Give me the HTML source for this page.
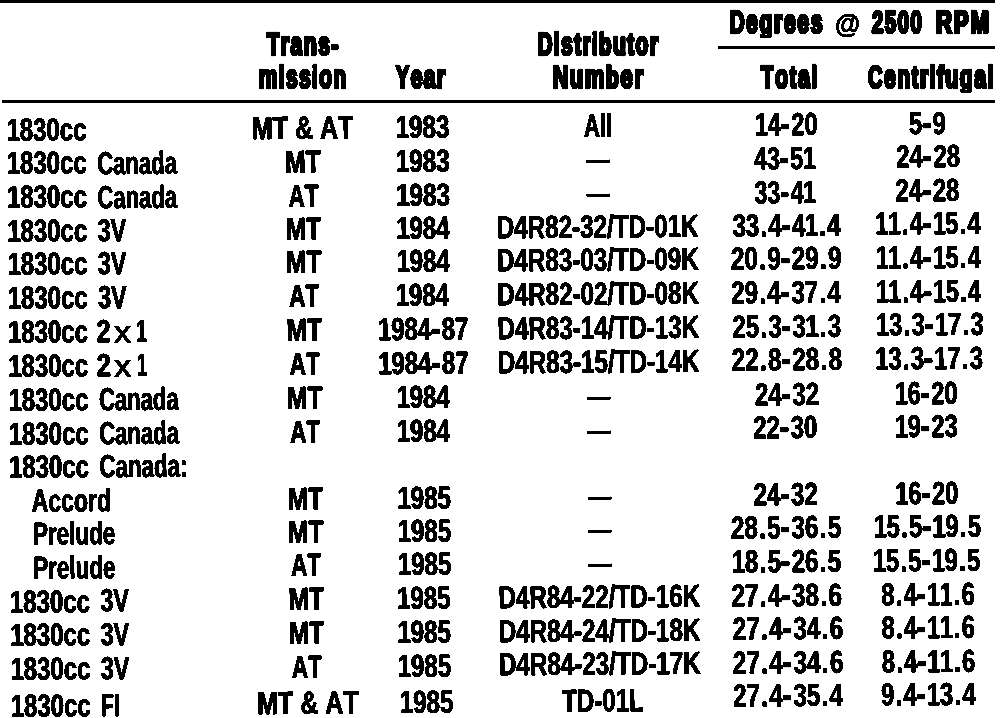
<!DOCTYPE html>
<html><head><meta charset="utf-8"><title>Distributor advance table</title>
<style>
html,body{margin:0;padding:0;background:#fff;}
body{width:1008px;height:718px;position:relative;overflow:hidden;filter:grayscale(1) contrast(40);font-family:"Liberation Sans",sans-serif;color:#000;}
#txt{position:absolute;left:0;top:0;width:1008px;height:718px;transform-origin:0 0;transform:rotate(-0.42deg);}
.t{position:absolute;white-space:nowrap;font-kerning:none;font-weight:bold;line-height:normal;transform-origin:0 0;font-family:"Liberation Sans",sans-serif;color:#000;font-size:32px;}
.t i{font-style:normal;}
.t b{font-weight:bold;}
.t i.p{margin:0 0.055em;}
.t i.h{margin:0 0.020em;font-weight:normal;}
.t i.o{margin:0 -0.012em;}
.b{-webkit-text-stroke:0.2px #000;text-shadow:0.55px 0 0 #000,-0.55px 0 0 #000;}
.x{font-weight:normal;-webkit-text-stroke:1.2px #000;}
.h{font-size:31.8px;-webkit-text-stroke:3px #000;text-shadow:1.3px 0 0 #000,-1.3px 0 0 #000;letter-spacing:2.3px;}
.at{-webkit-text-stroke:1px #000;}
.d{position:absolute;background:#000;height:3px;width:24.2px;}
.r{position:absolute;background:#000;}
</style></head><body>
<div class="r" style="left:0px;top:0px;width:995px;height:3px"></div>
<div class="r" style="left:718px;top:46px;width:277px;height:3px"></div>
<div class="r" style="left:2px;top:100px;width:993px;height:3px"></div>
<div class="t h" style="left:266.94px;top:24.55px;transform:scale(0.6653,1.0200);font-size:31.8px;"><b style="font-size:30px">T</b>rans<b style="font-size:30px">-</b></div>
<div class="t h" style="left:258.76px;top:58.45px;transform:scale(0.6549,1.0200);font-size:31.8px;">m<b style="font-size:30px">i</b>ss<b style="font-size:30px">i</b>on</div>
<div class="t h" style="left:396.31px;top:58.45px;transform:scale(0.6585,1.0200);font-size:31.8px;"><b style="font-size:30px">Y</b>ear</div>
<div class="t h" style="left:537.52px;top:24.65px;transform:scale(0.6638,1.0200);font-size:31.8px;"><b style="font-size:30px">Di</b>s<b style="font-size:30px">t</b>r<b style="font-size:30px">ib</b>u<b style="font-size:30px">t</b>or</div>
<div class="t h" style="left:552.65px;top:58.05px;transform:scale(0.6964,1.0200);font-size:31.8px;"><b style="font-size:30px">N</b>um<b style="font-size:30px">b</b>er</div>
<div class="t h" style="left:729.73px;top:3.35px;transform:scale(0.6707,1.0200);clip-path:inset(-5px -9px 2.6px -9px);font-size:31.8px;"><b style="font-size:30px">D</b>egrees</div>
<div class="t at" style="left:834.66px;top:9.25px;transform:scaleX(0.9640);font-size:26.8px;">@</div>
<div class="t h" style="left:872.38px;top:3.35px;transform:scale(0.6769,1.0200);font-size:31.8px;"><b style="font-size:30px">2500</b></div>
<div class="t h" style="left:935.59px;top:3.35px;transform:scale(0.7425,1.0200);font-size:31.8px;"><b style="font-size:30px">RPM</b></div>
<div class="t h" style="left:760.87px;top:58.25px;transform:scale(0.6745,1.0200);font-size:31.8px;"><b style="font-size:30px">T</b>o<b style="font-size:30px">t</b>a<b style="font-size:30px">l</b></div>
<div class="t h" style="left:867.75px;top:58.25px;transform:scale(0.6676,1.0200);clip-path:inset(-5px -9px 2.6px -9px);font-size:31.8px;"><b style="font-size:30px">C</b>en<b style="font-size:30px">t</b>r<b style="font-size:30px">if</b>uga<b style="font-size:30px">l</b></div>
<div id="txt">
<div class="t b" style="left:5.73px;top:111.79px;transform:scaleX(0.7502);"><i class="o">1</i>830cc</div>
<div class="t b" style="left:251.18px;top:111.90px;transform:scaleX(0.7817);">MT &amp; AT</div>
<div class="t b" style="left:394.93px;top:111.97px;transform:scaleX(0.7600);"><i class="o">1</i>983</div>
<div class="t b" style="left:583.18px;top:111.96px;transform:scaleX(0.6876);">All</div>
<div class="t b" style="left:753.91px;top:112.26px;transform:scaleX(0.7416);"><i class="o">1</i>4<i class="h">-</i>20</div>
<div class="t b" style="left:908.43px;top:111.83px;transform:scaleX(0.7410);">5<i class="h">-</i>9</div>
<div class="t b" style="left:5.75px;top:145.49px;transform:scaleX(0.7502);"><i class="o">1</i>830cc</div>
<div class="t b" style="left:95.53px;top:145.53px;transform:scaleX(0.6893);">Canada</div>
<div class="t b" style="left:284.11px;top:145.59px;transform:scaleX(0.7687);">MT</div>
<div class="t b" style="left:394.83px;top:145.65px;transform:scaleX(0.7600);"><i class="o">1</i>983</div>
<div class="t b" style="left:752.91px;top:145.86px;transform:scaleX(0.7245);">43<i class="h">-</i>5<i class="o">1</i></div>
<div class="t b" style="left:894.58px;top:145.49px;transform:scaleX(0.7490);">24<i class="h">-</i>28</div>
<div class="t b" style="left:5.76px;top:179.49px;transform:scaleX(0.7502);"><i class="o">1</i>830cc</div>
<div class="t b" style="left:95.54px;top:179.53px;transform:scaleX(0.6893);">Canada</div>
<div class="t b" style="left:287.36px;top:179.57px;transform:scaleX(0.7031);">AT</div>
<div class="t b" style="left:394.72px;top:179.62px;transform:scaleX(0.7600);"><i class="o">1</i>983</div>
<div class="t b" style="left:752.78px;top:179.76px;transform:scaleX(0.7267);">33<i class="h">-</i>4<i class="o">1</i></div>
<div class="t b" style="left:894.38px;top:179.44px;transform:scaleX(0.7490);">24<i class="h">-</i>28</div>
<div class="t b" style="left:5.78px;top:212.59px;transform:scaleX(0.7502);"><i class="o">1</i>830cc</div>
<div class="t b" style="left:95.95px;top:212.63px;transform:scaleX(0.7269);">3V</div>
<div class="t b" style="left:284.02px;top:212.66px;transform:scaleX(0.7687);">MT</div>
<div class="t b" style="left:394.63px;top:212.70px;transform:scaleX(0.7492);"><i class="o">1</i>984</div>
<div class="t b" style="left:494.93px;top:212.67px;transform:scaleX(0.7564);">D4R82-32/TD-01K</div>
<div class="t b" style="left:730.89px;top:212.76px;transform:scaleX(0.7430);">33<i class="p">.</i>4<i class="h">-</i>4<i class="o">1</i><i class="p">.</i>4</div>
<div class="t b" style="left:874.34px;top:212.49px;transform:scaleX(0.7303);"><i class="o">1</i><i class="o">1</i><i class="p">.</i>4<i class="h">-</i><i class="o">1</i>5<i class="p">.</i>4</div>
<div class="t b" style="left:5.79px;top:246.30px;transform:scaleX(0.7502);"><i class="o">1</i>830cc</div>
<div class="t b" style="left:95.97px;top:246.32px;transform:scaleX(0.7269);">3V</div>
<div class="t b" style="left:283.98px;top:246.35px;transform:scaleX(0.7687);">MT</div>
<div class="t b" style="left:394.53px;top:246.38px;transform:scaleX(0.7492);"><i class="o">1</i>984</div>
<div class="t b" style="left:494.85px;top:246.34px;transform:scaleX(0.7564);">D4R83-03/TD-09K</div>
<div class="t b" style="left:728.83px;top:246.36px;transform:scaleX(0.7588);">20<i class="p">.</i>9<i class="h">-</i>29<i class="p">.</i>9</div>
<div class="t b" style="left:874.09px;top:246.14px;transform:scaleX(0.7303);"><i class="o">1</i><i class="o">1</i><i class="p">.</i>4<i class="h">-</i><i class="o">1</i>5<i class="p">.</i>4</div>
<div class="t b" style="left:5.81px;top:279.80px;transform:scaleX(0.7502);"><i class="o">1</i>830cc</div>
<div class="t b" style="left:95.98px;top:279.82px;transform:scaleX(0.7269);">3V</div>
<div class="t b" style="left:287.24px;top:279.83px;transform:scaleX(0.7031);">AT</div>
<div class="t b" style="left:394.42px;top:279.86px;transform:scaleX(0.7492);"><i class="o">1</i>984</div>
<div class="t b" style="left:494.78px;top:279.81px;transform:scaleX(0.7564);">D4R82-02/TD-08K</div>
<div class="t b" style="left:728.74px;top:279.76px;transform:scaleX(0.7535);">29<i class="p">.</i>4<i class="h">-</i>37<i class="p">.</i>4</div>
<div class="t b" style="left:873.85px;top:279.60px;transform:scaleX(0.7303);"><i class="o">1</i><i class="o">1</i><i class="p">.</i>4<i class="h">-</i><i class="o">1</i>5<i class="p">.</i>4</div>
<div class="t b" style="left:5.82px;top:313.70px;transform:scaleX(0.7502);"><i class="o">1</i>830cc</div>
<div class="t b" style="left:94.29px;top:313.63px;transform:scaleX(0.8028);">2</div>
<div class="t x" style="left:112.43px;top:316.02px;transform:scaleX(1.0935);font-size:29.5px;">x</div>
<div class="t b" style="left:134.06px;top:313.93px;transform:scaleX(0.5871);">1</div>
<div class="t b" style="left:283.90px;top:313.72px;transform:scaleX(0.7687);">MT</div>
<div class="t b" style="left:376.22px;top:313.74px;transform:scaleX(0.7481);"><i class="o">1</i>984<i class="h">-</i>87</div>
<div class="t b" style="left:494.70px;top:313.68px;transform:scaleX(0.7564);">D4R83-14/TD-13K</div>
<div class="t b" style="left:729.55px;top:313.57px;transform:scaleX(0.7501);">25<i class="p">.</i>3<i class="h">-</i>3<i class="o">1</i><i class="p">.</i>3</div>
<div class="t b" style="left:873.88px;top:313.45px;transform:scaleX(0.7441);"><i class="o">1</i>3<i class="p">.</i>3<i class="h">-</i><i class="o">1</i>7<i class="p">.</i>3</div>
<div class="t b" style="left:5.84px;top:347.60px;transform:scaleX(0.7502);"><i class="o">1</i>830cc</div>
<div class="t b" style="left:94.30px;top:347.53px;transform:scaleX(0.8028);">2</div>
<div class="t x" style="left:112.45px;top:349.92px;transform:scaleX(1.0935);font-size:29.5px;">x</div>
<div class="t b" style="left:134.08px;top:347.82px;transform:scaleX(0.5871);">1</div>
<div class="t b" style="left:287.15px;top:347.60px;transform:scaleX(0.7031);">AT</div>
<div class="t b" style="left:376.11px;top:347.62px;transform:scaleX(0.7481);"><i class="o">1</i>984<i class="h">-</i>87</div>
<div class="t b" style="left:494.63px;top:347.55px;transform:scaleX(0.7564);">D4R83-15/TD-14K</div>
<div class="t b" style="left:728.56px;top:347.37px;transform:scaleX(0.7578);">22<i class="p">.</i>8<i class="h">-</i>28<i class="p">.</i>8</div>
<div class="t b" style="left:872.84px;top:347.30px;transform:scaleX(0.7441);"><i class="o">1</i>3<i class="p">.</i>3<i class="h">-</i><i class="o">1</i>7<i class="p">.</i>3</div>
<div class="t b" style="left:5.86px;top:381.90px;transform:scaleX(0.7502);"><i class="o">1</i>830cc</div>
<div class="t b" style="left:95.64px;top:381.91px;transform:scaleX(0.6893);">Canada</div>
<div class="t b" style="left:283.82px;top:381.89px;transform:scaleX(0.7687);">MT</div>
<div class="t b" style="left:394.10px;top:381.90px;transform:scaleX(0.7492);"><i class="o">1</i>984</div>
<div class="t b" style="left:751.72px;top:381.57px;transform:scaleX(0.7516);">24<i class="h">-</i>32</div>
<div class="t b" style="left:892.44px;top:381.55px;transform:scaleX(0.7416);"><i class="o">1</i>6<i class="h">-</i>20</div>
<div class="t b" style="left:5.87px;top:415.80px;transform:scaleX(0.7502);"><i class="o">1</i>830cc</div>
<div class="t b" style="left:95.65px;top:415.81px;transform:scaleX(0.6893);">Canada</div>
<div class="t b" style="left:287.07px;top:415.77px;transform:scaleX(0.7031);">AT</div>
<div class="t b" style="left:394.00px;top:415.78px;transform:scaleX(0.7492);"><i class="o">1</i>984</div>
<div class="t b" style="left:750.16px;top:415.37px;transform:scaleX(0.7519);">22<i class="h">-</i>30</div>
<div class="t b" style="left:891.79px;top:415.41px;transform:scaleX(0.7402);"><i class="o">1</i>9<i class="h">-</i>23</div>
<div class="t b" style="left:5.89px;top:449.20px;transform:scaleX(0.7502);"><i class="o">1</i>830cc</div>
<div class="t b" style="left:95.67px;top:449.20px;transform:scaleX(0.6966);">Canada:</div>
<div class="t b" style="left:28.23px;top:482.86px;transform:scaleX(0.7198);">Accord</div>
<div class="t b" style="left:283.69px;top:482.64px;transform:scaleX(0.7687);">MT</div>
<div class="t b" style="left:393.78px;top:482.64px;transform:scaleX(0.7572);"><i class="o">1</i>985</div>
<div class="t b" style="left:750.27px;top:482.07px;transform:scaleX(0.7516);">24<i class="h">-</i>32</div>
<div class="t b" style="left:892.00px;top:482.21px;transform:scaleX(0.7416);"><i class="o">1</i>6<i class="h">-</i>20</div>
<div class="t b" style="left:29.21px;top:515.98px;transform:scaleX(0.7017);">Prelude</div>
<div class="t b" style="left:283.65px;top:515.73px;transform:scaleX(0.7687);">MT</div>
<div class="t b" style="left:393.67px;top:515.72px;transform:scaleX(0.7572);"><i class="o">1</i>985</div>
<div class="t b" style="left:726.78px;top:515.07px;transform:scaleX(0.7573);">28<i class="p">.</i>5<i class="h">-</i>36<i class="p">.</i>5</div>
<div class="t b" style="left:869.71px;top:515.26px;transform:scaleX(0.7428);"><i class="o">1</i>5<i class="p">.</i>5<i class="h">-</i><i class="o">1</i>9<i class="p">.</i>5</div>
<div class="t b" style="left:29.22px;top:549.58px;transform:scaleX(0.7017);">Prelude</div>
<div class="t b" style="left:286.90px;top:549.31px;transform:scaleX(0.7031);">AT</div>
<div class="t b" style="left:393.57px;top:549.29px;transform:scaleX(0.7572);"><i class="o">1</i>985</div>
<div class="t b" style="left:727.95px;top:548.57px;transform:scaleX(0.7515);"><i class="o">1</i>8<i class="p">.</i>5<i class="h">-</i>26<i class="p">.</i>5</div>
<div class="t b" style="left:869.46px;top:548.82px;transform:scaleX(0.7428);"><i class="o">1</i>5<i class="p">.</i>5<i class="h">-</i><i class="o">1</i>9<i class="p">.</i>5</div>
<div class="t b" style="left:5.95px;top:583.51px;transform:scaleX(0.7502);"><i class="o">1</i>830cc</div>
<div class="t b" style="left:96.13px;top:583.49px;transform:scaleX(0.7269);">3V</div>
<div class="t b" style="left:283.57px;top:583.40px;transform:scaleX(0.7687);">MT</div>
<div class="t b" style="left:393.46px;top:583.37px;transform:scaleX(0.7572);"><i class="o">1</i>985</div>
<div class="t b" style="left:494.10px;top:583.24px;transform:scaleX(0.7564);">D4R84-22/TD-16K</div>
<div class="t b" style="left:727.48px;top:582.57px;transform:scaleX(0.7587);">27<i class="p">.</i>4<i class="h">-</i>38<i class="p">.</i>6</div>
<div class="t b" style="left:877.43px;top:582.87px;transform:scaleX(0.7381);">8<i class="p">.</i>4<i class="h">-</i><i class="o">1</i><i class="o">1</i><i class="p">.</i>6</div>
<div class="t b" style="left:5.97px;top:616.91px;transform:scaleX(0.7502);"><i class="o">1</i>830cc</div>
<div class="t b" style="left:96.14px;top:616.88px;transform:scaleX(0.7269);">3V</div>
<div class="t b" style="left:283.53px;top:616.78px;transform:scaleX(0.7687);">MT</div>
<div class="t b" style="left:393.36px;top:616.75px;transform:scaleX(0.7572);"><i class="o">1</i>985</div>
<div class="t b" style="left:494.03px;top:616.61px;transform:scaleX(0.7564);">D4R84-24/TD-18K</div>
<div class="t b" style="left:727.83px;top:615.87px;transform:scaleX(0.7587);">27<i class="p">.</i>4<i class="h">-</i>34<i class="p">.</i>6</div>
<div class="t b" style="left:877.24px;top:616.22px;transform:scaleX(0.7381);">8<i class="p">.</i>4<i class="h">-</i><i class="o">1</i><i class="o">1</i><i class="p">.</i>6</div>
<div class="t b" style="left:5.98px;top:650.71px;transform:scaleX(0.7502);"><i class="o">1</i>830cc</div>
<div class="t b" style="left:96.16px;top:650.68px;transform:scaleX(0.7269);">3V</div>
<div class="t b" style="left:286.78px;top:650.57px;transform:scaleX(0.7031);">AT</div>
<div class="t b" style="left:393.25px;top:650.53px;transform:scaleX(0.7572);"><i class="o">1</i>985</div>
<div class="t b" style="left:493.95px;top:650.38px;transform:scaleX(0.7564);">D4R84-23/TD-17K</div>
<div class="t b" style="left:727.73px;top:649.58px;transform:scaleX(0.7587);">27<i class="p">.</i>4<i class="h">-</i>34<i class="p">.</i>6</div>
<div class="t b" style="left:877.04px;top:649.97px;transform:scaleX(0.7381);">8<i class="p">.</i>4<i class="h">-</i><i class="o">1</i><i class="o">1</i><i class="p">.</i>6</div>
<div class="t b" style="left:6.00px;top:688.11px;transform:scaleX(0.7502);"><i class="o">1</i>830cc</div>
<div class="t b" style="left:96.06px;top:688.08px;transform:scaleX(0.6561);">FI</div>
<div class="t b" style="left:252.07px;top:687.45px;transform:scaleX(0.7817);">MT &amp; AT</div>
<div class="t b" style="left:394.74px;top:687.41px;transform:scaleX(0.7572);"><i class="o">1</i>985</div>
<div class="t b" style="left:556.53px;top:687.24px;transform:scaleX(0.7517);">TD-01L</div>
<div class="t b" style="left:727.65px;top:682.78px;transform:scaleX(0.7535);">27<i class="p">.</i>4<i class="h">-</i>35<i class="p">.</i>4</div>
<div class="t b" style="left:875.87px;top:683.22px;transform:scaleX(0.7427);">9<i class="p">.</i>4<i class="h">-</i><i class="o">1</i>3<i class="p">.</i>4</div>
<div class="d" style="left:584.62px;top:163.89px;width:24.2px;height:3.0px"></div>
<div class="d" style="left:584.55px;top:197.86px;width:24.2px;height:3.0px"></div>
<div class="d" style="left:584.09px;top:400.68px;width:24.2px;height:3.0px"></div>
<div class="d" style="left:584.02px;top:434.55px;width:24.2px;height:3.0px"></div>
<div class="d" style="left:583.87px;top:501.39px;width:24.2px;height:3.0px"></div>
<div class="d" style="left:583.80px;top:534.46px;width:24.2px;height:3.0px"></div>
<div class="d" style="left:583.72px;top:568.03px;width:24.2px;height:3.0px"></div>
</div>
</body></html>
